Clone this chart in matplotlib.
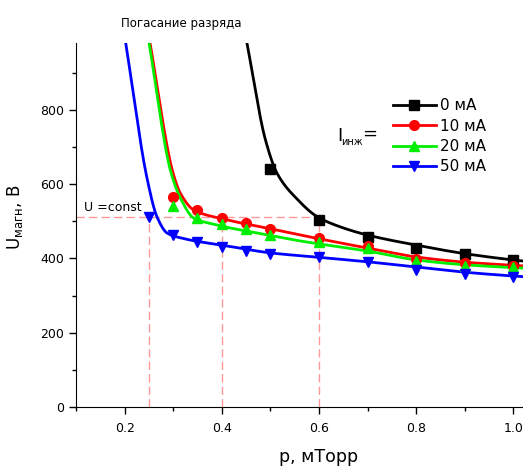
import numpy as np
import matplotlib.pyplot as plt
from matplotlib.ticker import MultipleLocator

p0 = [0.5, 0.6, 0.7, 0.8, 0.9, 1.0]
u0 = [640, 503, 458, 428, 412, 396]
p10 = [0.3, 0.35, 0.4, 0.45, 0.5, 0.6, 0.7, 0.8, 0.9, 1.0]
u10 = [565, 530, 509, 495, 479, 455, 433, 398, 388, 380]
p20 = [0.3, 0.35, 0.4, 0.45, 0.5, 0.6, 0.7, 0.8, 0.9, 1.0]
u20 = [541, 509, 493, 479, 463, 444, 428, 393, 380, 377]
p50 = [0.25, 0.3, 0.35, 0.4, 0.45, 0.5, 0.6, 0.7, 0.8, 0.9, 1.0]
u50 = [511, 463, 444, 431, 420, 412, 404, 390, 369, 358, 350]

# points along the fitted curves
fit_p0 = [0.452, 0.490, 0.514, 0.555, 0.597, 0.644, 0.7, 0.8, 0.9, 1.02, 1.1]
fit_u0 = [979, 719, 629, 560, 512, 485, 463, 436, 413, 393, 383]
fit_p10 = [0.252, 0.300, 0.315, 0.343, 0.4, 0.5, 0.562, 0.7, 0.8, 0.9, 1.02, 1.1]
fit_u10 = [983, 629, 575, 530, 507, 480, 463, 428, 404, 390, 380, 374]
fit_p20 = [0.250, 0.296, 0.317, 0.343, 0.377, 0.5, 0.562, 0.7, 0.8, 0.9, 1.02, 1.1]
fit_u20 = [983, 629, 557, 508, 494, 462, 447, 420, 396, 383, 374, 369]
fit_p50 = [0.202, 0.247, 0.267, 0.288, 0.32, 0.35, 0.4, 0.5, 0.6, 0.7, 0.8, 0.9, 1.02, 1.1]
fit_u50 = [983, 611, 511, 468, 454, 446, 436, 415, 403, 391, 377, 363, 351, 345]

labels = ["0 мА", "10 мА", "20 мА", "50 мА"]
colors = ["black", "red", "#00ee00", "blue"]
markers = ["s", "o", "^", "v"]
u_const = 511
p_marks = [0.25, 0.4, 0.6]


def pchip(x, y, xs):
    # monotone cubic through the read curve points (Fritsch-Carlson)
    x = np.asarray(x, float)
    y = np.asarray(y, float)
    h = np.diff(x)
    d = np.diff(y) / h
    m = np.zeros_like(y)
    m[0], m[-1] = d[0], d[-1]
    for k in range(1, len(x) - 1):
        if d[k - 1] * d[k] > 0:
            w1 = 2 * h[k] + h[k - 1]
            w2 = h[k] + 2 * h[k - 1]
            m[k] = (w1 + w2) / (w1 / d[k - 1] + w2 / d[k])
    i = np.clip(np.searchsorted(x, xs) - 1, 0, len(x) - 2)
    t = (xs - x[i]) / h[i]
    h00 = 2 * t ** 3 - 3 * t ** 2 + 1
    h10 = t ** 3 - 2 * t ** 2 + t
    h01 = -2 * t ** 3 + 3 * t ** 2
    h11 = t ** 3 - t ** 2
    return h00 * y[i] + h10 * h[i] * m[i] + h01 * y[i + 1] + h11 * h[i] * m[i + 1]


fig = plt.figure(figsize=(5.23, 4.66), dpi=100)
ax = fig.add_axes([0.1453, 0.1266, 0.929, 0.781])

points = [(p0, u0), (p10, u10), (p20, u20), (p50, u50)]
curves = [(fit_p0, fit_u0), (fit_p10, fit_u10), (fit_p20, fit_u20), (fit_p50, fit_u50)]
for (px, uy), (fx, fy), col, mk, lab in zip(points, curves, colors, markers, labels):
    xs = np.linspace(fx[0], fx[-1], 800)
    ax.plot(xs, pchip(fx, fy, xs), color=col, lw=2, zorder=3)
    ax.plot(px, uy, ls="none", marker=mk, color=col, ms=7, zorder=4)
    ax.plot([], [], color=col, lw=2, marker=mk, ms=7, label=lab)

# U = const guide lines
dash = dict(color="#ff9999", lw=1, ls=(0, (6, 3)), zorder=2)
ax.plot([0.1, 0.61], [u_const, u_const], **dash)
for pm in p_marks:
    ax.plot([pm, pm], [0, u_const], **dash)
ax.text(0.116, 538, "U =const", fontsize=9, va="center")

ax.set_xlim(0.1, 1.1)
ax.set_ylim(0, 980)
ax.set_xticks([0.2, 0.4, 0.6, 0.8, 1.0])
ax.set_xticklabels(["0.2", "0.4", "0.6", "0.8", "1.0"])
ax.xaxis.set_minor_locator(MultipleLocator(0.1))
ax.yaxis.set_major_locator(MultipleLocator(200))
ax.yaxis.set_minor_locator(MultipleLocator(100))
ax.tick_params(which="major", length=5, width=1, labelsize=9)
ax.tick_params(axis="x", which="major", pad=6)
ax.tick_params(which="minor", length=3, width=1)
for s in ["top", "right"]:
    ax.spines[s].set_visible(False)

ax.set_xlabel("p, мТорр", fontsize=12.5, labelpad=9)
ax.set_ylabel("U$_{\\mathrm{магн}}$, В", fontsize=12)
ax.yaxis.set_label_coords(-0.105, 0.52)

ax.text(0.317, 1034, "Погасание разряда", fontsize=8.5, ha="center",
        va="center", clip_on=False)

leg = ax.legend(loc="upper left", bbox_to_anchor=(0.64, 0.865), frameon=False,
                fontsize=11, handlelength=2.8, handletextpad=0.25,
                labelspacing=0.35, borderaxespad=0)
ax.text(0.638, 729, "I", fontsize=13, va="center", ha="left")
ax.text(0.6465, 713, "инж", fontsize=7, va="center", ha="left")
ax.text(0.688, 737, "=", fontsize=13, va="center", ha="left")

fig.savefig("out.png", dpi=100)
